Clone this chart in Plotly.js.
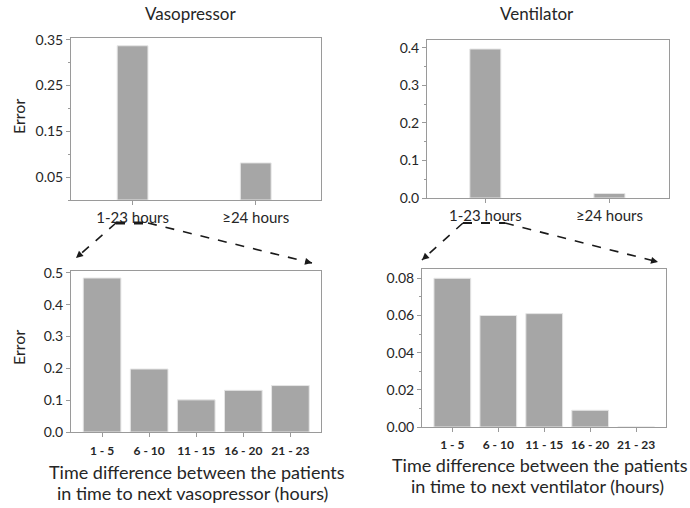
<!DOCTYPE html>
<html>
<head>
<meta charset="utf-8">
<script src="https://cdn.plot.ly/plotly-3.0.1.min.js"></script>
<style>
  html, body { margin: 0; padding: 0; background: #fff; }
  #chart { width: 690px; height: 508px; }
</style>
</head>
<body>
<div id="chart"></div>
<script>
// Overall error by time-to-event window
const overviewCats = ['1-23 hours', '\u226524 hours'];
const vasoOverview = [0.337, 0.081];
const ventOverview = [0.397, 0.012];

// Breakdown of the 1-23 hour window
const detailCats = ['1 - 5', '6 - 10', '11 - 15', '16 - 20', '21 - 23'];
const vasoDetail = [0.484, 0.198, 0.101, 0.131, 0.146];
const ventDetail = [0.080, 0.060, 0.061, 0.009, 0.000];

const W = 690, H = 508;
const FONT = 'Lato, "Open Sans", sans-serif';
const BAR = '#a6a6a6';
const AXIS = '#9a9a9a';
const TXT = '#262626';

// pixel -> paper helpers for layout placement
const px = x => x / W;
const py = y => 1 - y / H;

function bar(x, y, xa, ya, width) {
  return {
    type: 'bar', x: x, y: y, xaxis: xa, yaxis: ya, width: width,
    marker: { color: BAR, line: { color: '#e6e6e6', width: 1 } },
    hoverinfo: 'x+y', showlegend: false
  };
}

const data = [
  bar(overviewCats, vasoOverview, 'x', 'y', 0.25),
  bar(overviewCats, ventOverview, 'x2', 'y2', 0.25),
  bar(detailCats, vasoDetail, 'x3', 'y3', 0.8),
  bar(detailCats, ventDetail, 'x4', 'y4', 0.8)
];

function xaxis(anchor, domain, range, fontSize, bold, standoff) {
  return {
    anchor: anchor, domain: domain, range: range, type: 'category',
    showline: true, mirror: true, linecolor: AXIS, linewidth: 1,
    ticks: 'outside', ticklen: 4, tickcolor: AXIS, ticklabelstandoff: standoff,
    tickfont: { family: FONT, size: fontSize, color: TXT, weight: bold ? 'bold' : 'normal' },
    showgrid: false, zeroline: false, fixedrange: true
  };
}
function yaxis(anchor, domain, range, tick0, dtick, fmt, minorDtick) {
  const a = {
    anchor: anchor, domain: domain, range: range, tick0: tick0, dtick: dtick, tickformat: fmt,
    showline: true, mirror: true, linecolor: AXIS, linewidth: 1,
    ticks: 'outside', ticklen: 4, tickcolor: AXIS,
    tickfont: { family: FONT, size: 14, color: TXT },
    showgrid: false, zeroline: false, fixedrange: true
  };
  if (minorDtick) {
    a.minor = { tick0: 0, dtick: minorDtick, ticks: 'outside', ticklen: 2, tickcolor: AXIS, showgrid: false };
  }
  return a;
}

const layout = {
  width: W, height: H,
  margin: { l: 0, r: 0, t: 0, b: 0 },
  paper_bgcolor: '#fff', plot_bgcolor: '#fff',
  bargap: 0,
  xaxis: xaxis('y', [px(71), px(321)], [-0.5, 1.53], 15, false, 0),
  yaxis: yaxis('x', [py(200), py(38)], [0, 0.354], 0.05, 0.1, '.2f', 0.1),
  xaxis2: xaxis('y2', [px(427), px(669)], [-0.47, 1.48], 15, false, 0),
  yaxis2: yaxis('x2', [py(198), py(40)], [0, 0.421], 0, 0.1, '.1f', 0.05),
  xaxis3: xaxis('y3', [px(71), px(321)], [-0.66, 4.65], 12, true, 4),
  yaxis3: yaxis('x3', [py(432), py(271)], [0, 0.506], 0, 0.1, '.1f', null),
  xaxis4: xaxis('y4', [px(422), px(666)], [-0.66, 4.65], 12, true, 3),
  yaxis4: yaxis('x4', [py(427), py(269)], [0, 0.085], 0, 0.02, '.2f', 0.01),
  annotations: [],
  shapes: []
};

function label(text, x, y, size, angle) {
  layout.annotations.push({
    text: text, x: px(x), y: py(y), xref: 'paper', yref: 'paper',
    showarrow: false, textangle: angle || 0,
    xanchor: 'center', yanchor: 'middle',
    font: { family: FONT, size: size, color: TXT }
  });
}

// Panel titles
label('Vasopressor', 190, 14, 17);
label('Ventilator', 537, 14, 17);
// Y-axis titles
label('Error', 18, 117, 16, -90);
label('Error', 18, 348, 16, -90);
// X-axis titles of the breakdown panels
label('Time difference between the patients', 197, 472, 18);
label('in time to next vasopressor (hours)', 193, 493, 18);
label('Time difference between the patients', 540, 465, 18);
label('in time to next ventilator (hours)', 537, 486, 18);

// Dashed "zoom-in" connectors from the 1-23 hour bar to the breakdown panel
function connector(tipL, topL, topR, tipR, heavy) {
  const seg = (a, b, w) => layout.shapes.push({
    type: 'line', xref: 'paper', yref: 'paper',
    x0: px(a[0]), y0: py(a[1]), x1: px(b[0]), y1: py(b[1]),
    line: { color: '#1a1a1a', width: w, dash: 'dash' }
  });
  seg(topL, tipL, 1.6);
  seg(topL, topR, heavy ? 3 : 1.8);
  seg(topR, tipR, 1.6);
  [[tipL, topL], [tipR, topR]].forEach(([tip, from]) => {
    const dx = from[0] - tip[0], dy = from[1] - tip[1];
    const len = Math.hypot(dx, dy);
    layout.annotations.push({
      x: px(tip[0]), y: py(tip[1]), xref: 'paper', yref: 'paper',
      ax: dx / len * 7, ay: dy / len * 7, text: '',
      showarrow: true, arrowhead: 2, arrowsize: 1, arrowwidth: 1.4, arrowcolor: '#1a1a1a'
    });
  });
}
connector([76, 258], [116, 223], [148, 223], [312, 263], true);
connector([422, 260], [463, 223], [505, 223], [658, 262], false);

Plotly.newPlot('chart', data, layout, { displayModeBar: false, staticPlot: true });
</script>
</body>
</html>
